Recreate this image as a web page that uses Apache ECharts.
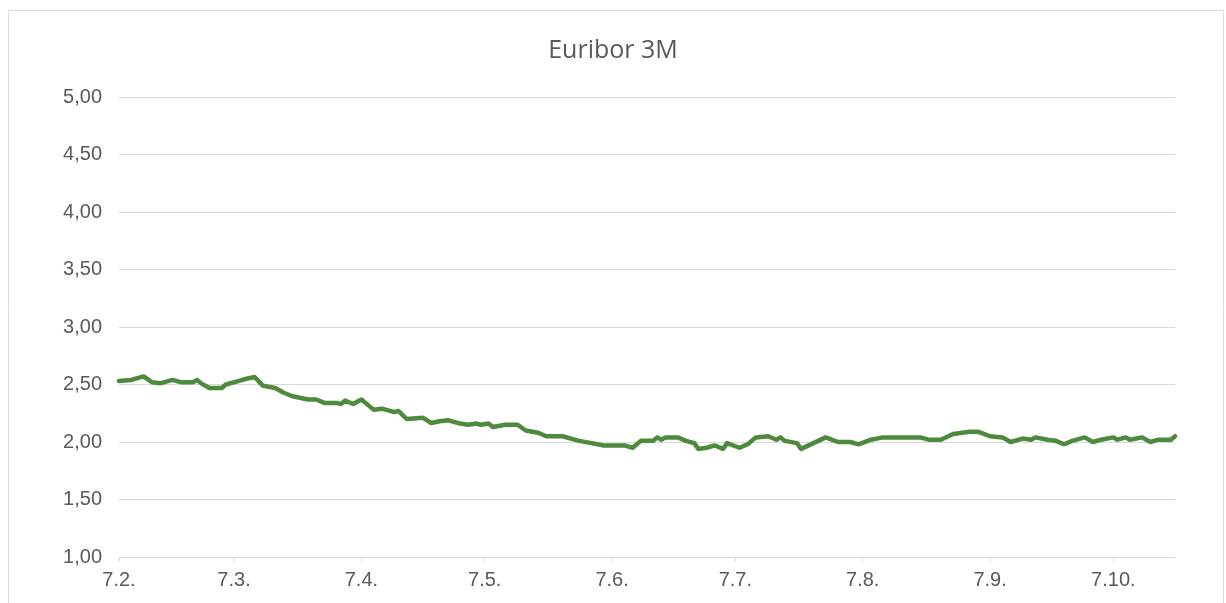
<!DOCTYPE html>
<html>
<head>
<meta charset="utf-8">
<script src="https://cdn.jsdelivr.net/npm/echarts@6/dist/echarts.min.js"></script>
<style>html,body{margin:0;padding:0;background:#fff;}#c{width:1226px;height:603px;}</style>
</head>
<body>
<div id="c"></div>
<script>
const title = 'Euribor 3M';
const dates = ['2025-02-07','2025-02-10','2025-02-13','2025-02-15','2025-02-17','2025-02-20','2025-02-22','2025-02-25','2025-02-26','2025-02-27',
'2025-03-01','2025-03-04','2025-03-05','2025-03-08','2025-03-10','2025-03-12','2025-03-14','2025-03-17','2025-03-19','2025-03-21',
'2025-03-25','2025-03-27','2025-03-29','2025-04-01','2025-04-02','2025-04-03','2025-04-05','2025-04-07','2025-04-09','2025-04-10',
'2025-04-12','2025-04-15','2025-04-16','2025-04-18','2025-04-22','2025-04-24','2025-04-26','2025-04-28','2025-05-01','2025-05-03',
'2025-05-05','2025-05-06','2025-05-08','2025-05-09','2025-05-12','2025-05-15','2025-05-17','2025-05-20','2025-05-22','2025-05-26',
'2025-05-28','2025-05-30','2025-06-02','2025-06-05','2025-06-10','2025-06-12','2025-06-14','2025-06-17','2025-06-18','2025-06-19',
'2025-06-20','2025-06-23','2025-06-25','2025-06-27','2025-06-28','2025-06-30','2025-07-02','2025-07-04','2025-07-05','2025-07-08',
'2025-07-10','2025-07-12','2025-07-15','2025-07-17','2025-07-18','2025-07-19','2025-07-22','2025-07-23','2025-07-26','2025-07-29',
'2025-08-01','2025-08-04','2025-08-06','2025-08-09','2025-08-12','2025-08-21','2025-08-23','2025-08-26','2025-08-29','2025-09-02',
'2025-09-04','2025-09-07','2025-09-10','2025-09-12','2025-09-15','2025-09-17','2025-09-18','2025-09-21','2025-09-23','2025-09-25',
'2025-09-27','2025-09-30','2025-10-02','2025-10-04','2025-10-07','2025-10-08','2025-10-10','2025-10-11','2025-10-14','2025-10-15',
'2025-10-16','2025-10-18','2025-10-21','2025-10-22'];
const rates = [2.53,2.54,2.57,2.52,2.51,2.54,2.52,2.52,2.54,2.51,
2.47,2.47,2.50,2.53,2.55,2.565,2.49,2.47,2.43,2.40,
2.37,2.37,2.34,2.34,2.33,2.36,2.33,2.37,2.31,2.28,
2.29,2.26,2.27,2.20,2.21,2.165,2.18,2.19,2.16,2.15,
2.16,2.15,2.16,2.13,2.15,2.15,2.10,2.08,2.05,2.05,
2.03,2.01,1.99,1.97,1.97,1.95,2.01,2.01,2.04,2.02,
2.04,2.04,2.01,1.99,1.94,1.95,1.97,1.94,1.99,1.95,
1.98,2.04,2.05,2.02,2.04,2.01,1.99,1.94,1.99,2.04,
2.00,2.00,1.98,2.02,2.04,2.04,2.02,2.02,2.07,2.09,
2.09,2.05,2.04,2.00,2.03,2.02,2.04,2.02,2.01,1.98,
2.01,2.04,2.00,2.02,2.04,2.02,2.04,2.02,2.04,2.02,
2.00,2.02,2.02,2.05];
const tickDates = ['2025-02-07','2025-03-07','2025-04-07','2025-05-07','2025-06-07','2025-07-07','2025-08-07','2025-09-07','2025-10-07'];
const yTicks = [1, 1.5, 2, 2.5, 3, 3.5, 4, 4.5, 5];

function ts(s){const p=s.split('-').map(Number);return new Date(p[0],p[1]-1,p[2]).getTime();}
const tickVals = tickDates.map(ts);
const seriesData = dates.map((d,i)=>[ts(d), rates[i]]);

const chart = echarts.init(document.getElementById('c'), null, {renderer:'canvas'});
const txt = '#595959';
chart.setOption({
  animation:false,
  backgroundColor:'#fff',
  title:{text:title,left:'center',top:33,textStyle:{color:txt,fontSize:25,fontWeight:'normal',fontFamily:'Open Sans'}},
  grid:{left:119,right:51,top:97,bottom:46,containLabel:false},
  graphic:[{type:'rect',shape:{x:8.5,y:10.5,width:1215,height:600},style:{fill:'none',stroke:'#d9d9d9',lineWidth:1},silent:true}],
  xAxis:{
    type:'value',
    min:ts(dates[0]), max:ts(dates[dates.length-1]),
    axisLine:{show:true,lineStyle:{color:'#d9d9d9',width:1}},
    axisTick:{show:true,customValues:tickVals,length:5,lineStyle:{color:'#d9d9d9'}},
    splitLine:{show:false},
    axisLabel:{customValues:tickVals,color:txt,fontSize:20,fontFamily:'Liberation Sans',margin:13,
      formatter:function(v){const d=new Date(v);return d.getDate()+'.'+(d.getMonth()+1)+'.';}}
  },
  yAxis:{
    type:'value',min:yTicks[0],max:yTicks[yTicks.length-1],interval:0.5,
    axisLine:{show:false},axisTick:{show:false},
    splitLine:{lineStyle:{color:'#d9d9d9',width:1}},
    axisLabel:{color:txt,fontSize:20,fontFamily:'Liberation Sans',margin:17,
      formatter:function(v){return v.toFixed(2).replace('.',',');}}
  },
  series:[{type:'line',data:seriesData,showSymbol:false,symbol:'none',
    lineStyle:{color:'#4e8a3d',width:4.5,join:'round',cap:'round'},itemStyle:{color:'#4e8a3d'}}]
});
</script>
</body>
</html>
